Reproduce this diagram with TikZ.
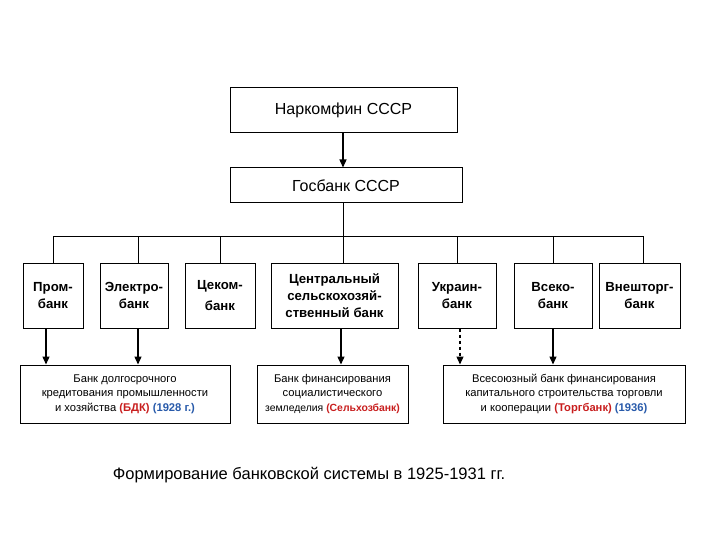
\documentclass[tikz,border=0pt]{standalone}
\usepackage{fontspec}
\setmainfont{Liberation Sans}
\usetikzlibrary{arrows.meta}
\definecolor{rd}{RGB}{200,30,30}
\definecolor{bl}{RGB}{40,90,170}
\begin{document}
\begin{tikzpicture}[x=1pt,y=-1pt,
 bx/.style={draw,line width=1pt,inner sep=0,align=center},
 top/.style={bx,font=\fontsize{13.2}{17}\selectfont\bfseries},
 bot/.style={bx,font=\fontsize{11.2}{14.5}\selectfont},
 arr/.style={line width=1.3pt,-{Triangle[length=8pt,width=7pt]}},
 ln/.style={line width=1pt}]
\useasboundingbox (0,0) rectangle (720,540);
\node[bx,font=\fontsize{16}{18}\selectfont,minimum width=227,minimum height=45] (nk) at (343.5,110.5) {Наркомфин СССР};
\node[bx,font=\fontsize{16}{18}\selectfont,minimum width=232,minimum height=35] (gb) at (346,185.5) {Госбанк СССР};
\draw[arr] (nk.south -| 343,0) -- (gb.north -| 343,0);
\node[top,minimum width=60,minimum height=65] (p) at (53,295.5) {Пром-\\банк};
\node[top,minimum width=68,minimum height=65] (e) at (134,295.5) {Электро-\\банк};
\node[top,minimum width=70,minimum height=65] (c) at (220,295.5) {Цеком-\\[4pt]банк};
\node[top,minimum width=127,minimum height=65] (cs) at (334.5,295.5) {Центральный\\сельскохозяй-\\ственный банк};
\node[top,minimum width=78,minimum height=65] (u) at (457,295.5) {Украин-\\банк};
\node[top,minimum width=78,minimum height=65] (v) at (553,295.5) {Всеко-\\банк};
\node[top,minimum width=81,minimum height=65] (vt) at (639.5,295.5) {Внешторг-\\банк};
\coordinate (hl) at (53,236); \coordinate (hr) at (643,236);
\draw[ln] (hl) -- (hr);
\draw[ln] (gb.south -| 343,0) -- (343,236);
\foreach \n/\xx in {p/53,e/138,c/220,cs/343,u/457,v/553,vt/643}
  \draw[ln] (\xx,236) -- (\n.north -| \xx,0);
\node[bot,minimum width=210,minimum height=58] (b1) at (125,394) {Банк долгосрочного\\кредитования промышленности\\и хозяйства {\color{rd}\bfseries(БДК)} {\color{bl}\bfseries(1928 г.)}};
\node[bot,minimum width=151,minimum height=58] (b2) at (332.5,394) {Банк финансирования\\социалистического\\\fontsize{10.4}{14.5}\selectfont земледелия {\color{rd}\bfseries(Сельхозбанк)}};
\node[bot,minimum width=242,minimum height=58] (b3) at (564,394) {Всесоюзный банк финансирования\\капитального строительства торговли\\и кооперации {\color{rd}\bfseries(Торгбанк)} {\color{bl}\bfseries(1936)}};
\draw[arr] (p.south -| 46,0) -- (b1.north -| 46,0);
\draw[arr] (e.south -| 138,0) -- (b1.north -| 138,0);
\draw[arr] (cs.south -| 341,0) -- (b2.north -| 341,0);
\draw[arr,dashed] (u.south -| 460,0) -- (b3.north -| 460,0);
\draw[arr] (v.south -| 553,0) -- (b3.north -| 553,0);
\node[font=\fontsize{16.5}{19}\selectfont] (cap) at (309,475) {Формирование банковской системы в 1925-1931 гг.};
\end{tikzpicture}
\end{document}
